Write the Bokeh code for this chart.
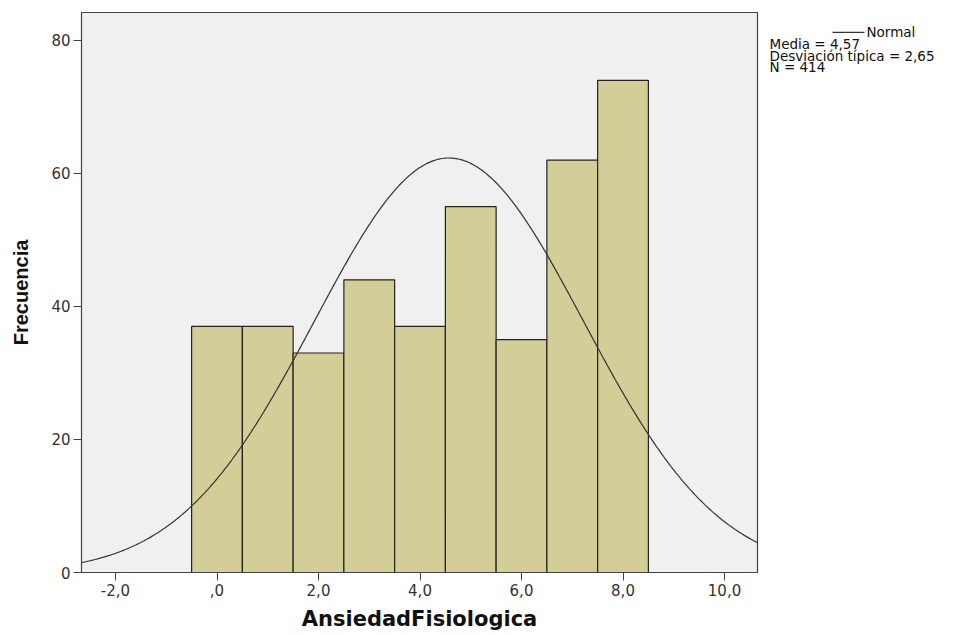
import numpy as np
from bokeh.plotting import figure
from bokeh.layouts import row
from bokeh.models import ColumnDataSource, FixedTicker, Label
from bokeh.embed import file_html
from bokeh.resources import INLINE

# ---- data ----
bin_centers = [0, 1, 2, 3, 4, 5, 6, 7, 8]
counts = [37, 37, 33, 44, 37, 55, 35, 62, 74]
bin_width = 1.0
mean = 4.57
std = 2.65
n_total = 414
x_ticks = [-2, 0, 2, 4, 6, 8, 10]
x_tick_labels = ["-2,0", ",0", "2,0", "4,0", "6,0", "8,0", "10,0"]
y_ticks = [0, 20, 40, 60, 80]
legend_name = "Normal"
legend_lines = ["Media = 4,57", "Desviación típica = 2,65", "N = 414"]

X_MIN, X_MAX = -2.67, 10.65
Y_MIN, Y_MAX = 0, 84.2

# normal curve from the reported mean / sd / N
xs = np.linspace(X_MIN, X_MAX, 400)
ys = n_total * bin_width / (std * np.sqrt(2 * np.pi)) * np.exp(-0.5 * ((xs - mean) / std) ** 2)

MAIN_W = 759
p = figure(width=MAIN_W, height=635, output_backend="svg", toolbar_location=None,
           x_range=(X_MIN, X_MAX), y_range=(Y_MIN, Y_MAX),
           min_border_left=81, min_border_right=2, min_border_top=12, min_border_bottom=63)

p.background_fill_color = "#f0f0f0"
p.border_fill_color = "white"
p.outline_line_color = "#444444"
p.outline_line_width = 1.2
p.xgrid.visible = False
p.ygrid.visible = False

src = ColumnDataSource(dict(x=bin_centers, top=counts))
p.vbar(x="x", top="top", width=bin_width, source=src,
       fill_color="#d3ce97", line_color="#222222", line_width=1.2)

p.line(xs, ys, line_color="#333333", line_width=1.2)

# axes
for ax in (p.xaxis[0], p.yaxis[0]):
    ax.axis_line_color = "#444444"
    ax.major_tick_line_color = "#444444"
    ax.major_tick_in = 0
    ax.major_tick_out = 8
    ax.minor_tick_line_color = None
    ax.major_label_text_font = "DejaVu Sans"
    ax.major_label_text_font_size = "15px"
    ax.major_label_text_color = "#333333"
    ax.axis_label_text_color = "#111111"
    ax.axis_label_text_font_style = "bold"

p.xaxis.ticker = FixedTicker(ticks=x_ticks)
p.xaxis.major_label_overrides = {t: l for t, l in zip(x_ticks, x_tick_labels)}
p.xaxis.axis_label = "AnsiedadFisiologica"
p.xaxis.axis_label_text_font = "DejaVu Sans"
p.xaxis.axis_label_text_font_size = "21px"
p.xaxis.major_label_standoff = 3
p.xaxis.axis_label_standoff = 8

p.yaxis.ticker = FixedTicker(ticks=y_ticks)
p.yaxis.axis_label = "Frecuencia"
p.yaxis.axis_label_text_font = "Liberation Sans"
p.yaxis.axis_label_text_font_size = "20px"
p.yaxis.major_label_standoff = 3
p.yaxis.axis_label_standoff = 16

# ---- side panel holding the legend block ----
SIDE_W = 960 - MAIN_W
q = figure(width=SIDE_W, height=635, output_backend="svg", toolbar_location=None,
           x_range=(0, SIDE_W), y_range=(0, 635),
           min_border=0, x_axis_type=None, y_axis_type=None)
q.outline_line_color = None
q.xgrid.visible = False
q.ygrid.visible = False
q.background_fill_color = "white"

OFF = MAIN_W
TOP = 635 + 9  # compensate measured vertical offset of the panel
q.segment(x0=[832 - OFF], y0=[TOP - 31.5], x1=[864 - OFF], y1=[TOP - 31.5],
          line_color="#333333", line_width=1.2)
q.add_layout(Label(x=866 - OFF, y=TOP - 31.5, text=legend_name,
                   text_font="DejaVu Sans", text_font_size="13.5px",
                   text_color="#111111", text_baseline="middle"))
centers = [45, 58, 70.5]
for txt, c in zip(legend_lines, centers):
    q.add_layout(Label(x=769 - OFF, y=TOP - c, text=txt,
                       text_font="DejaVu Sans", text_font_size="13.5px",
                       text_color="#111111", text_baseline="middle"))

layout = row(p, q, spacing=0)
open("out.html", "w").write(file_html(layout, INLINE))
